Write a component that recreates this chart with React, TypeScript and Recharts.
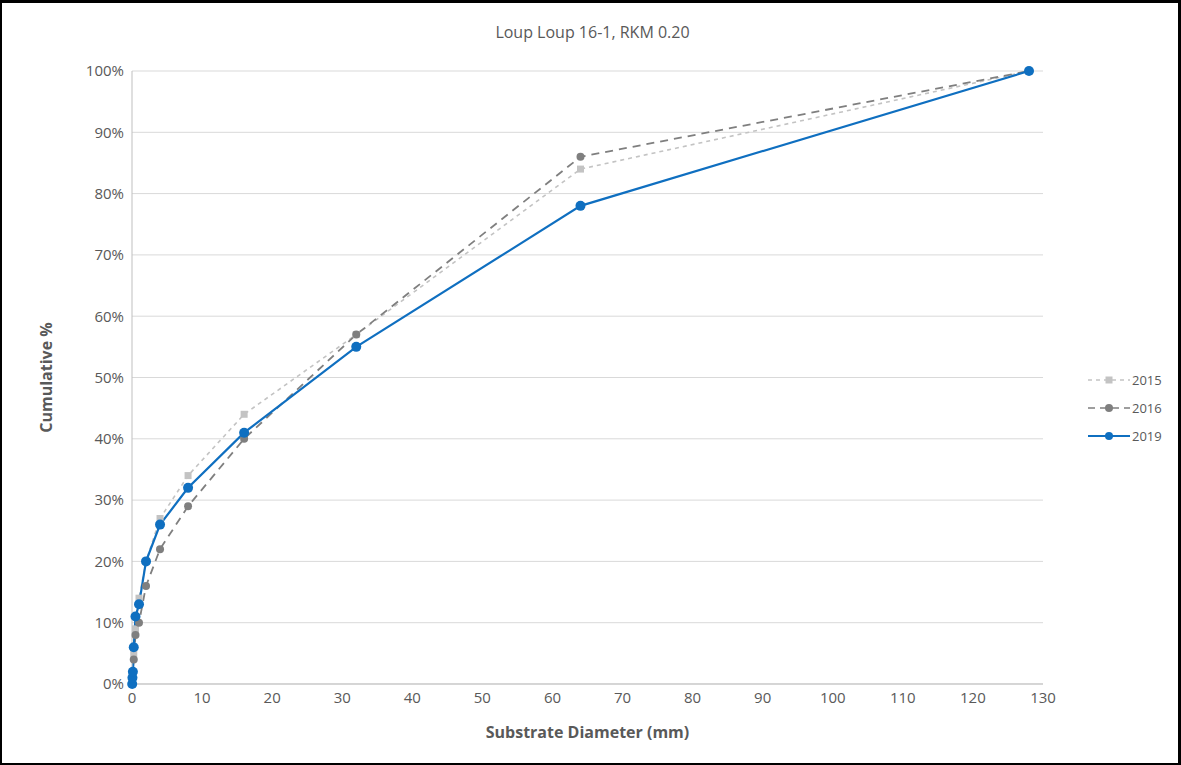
import React from "react";
import { LineChart, Line, XAxis, YAxis, CartesianGrid } from "recharts";

// particle sizes (mm)
const sizes = [0.03, 0.0625, 0.125, 0.25, 0.5, 1, 2, 4, 8, 16, 32, 64, 128];
const y2015 = [0, 1, 2, 5, 9, 14, 20, 27, 34, 44, 57, 84, 100];
const y2016 = [0, 1, 2, 4, 8, 10, 16, 22, 29, 40, 57, 86, 100];
const y2019 = [0, 1, 2, 6, 11, 13, 20, 26, 32, 41, 55, 78, 100];

const xTicks = [0, 10, 20, 30, 40, 50, 60, 70, 80, 90, 100, 110, 120, 130];
const yTicks = [0, 10, 20, 30, 40, 50, 60, 70, 80, 90, 100];

const data = sizes.map((s, i) => ({ x: s, y2015: y2015[i], y2016: y2016[i], y2019: y2019[i] }));

const C2015 = "#c3c3c3";
const C2016 = "#7f7f7f";
const C2019 = "#0f6fc0";
const FONT = "'Open Sans', 'Liberation Sans', sans-serif";

const SquareDot = (props: any) => {
  const { cx, cy } = props;
  if (cx == null || cy == null) return null;
  return <rect x={cx - 3.5} y={cy - 3.5} width={7} height={7} fill={C2015} />;
};

const legendItems = [
  { name: "2015", color: C2015, dash: "4 4", marker: "square" },
  { name: "2016", color: C2016, dash: "7 5", marker: "circle" },
  { name: "2019", color: C2019, dash: "", marker: "circle" },
];

const LegendBox = () => (
  <div style={{ fontFamily: FONT, fontSize: 13, color: "#595959" }}>
    {legendItems.map((it) => (
      <div key={it.name} style={{ display: "flex", alignItems: "center", height: 28 }}>
        <svg width={46} height={12}>
          <line x1={2} y1={6} x2={44} y2={6} stroke={it.color} strokeWidth={it.name === "2019" ? 2 : 1.6} strokeDasharray={it.dash} />
          {it.marker === "square" ? (
            <rect x={19.5} y={2.5} width={7} height={7} fill={it.color} />
          ) : (
            <circle cx={23} cy={6} r={4} fill={it.color} />
          )}
        </svg>
        <span>{it.name}</span>
      </div>
    ))}
  </div>
);

export default function App() {
  return (
    <div
      style={{
        position: "absolute",
        left: 0,
        top: 0,
        width: 1181,
        height: 765,
        background: "#fff",
        boxSizing: "border-box",
        border: "2px solid #000",
        borderRight: "3px solid #000",
        borderTop: "3px solid #000",
      }}
    >
      <div
        style={{
          position: "absolute",
          left: 0,
          top: 18,
          width: 1181,
          textAlign: "center",
          fontFamily: FONT,
          fontSize: 16,
          color: "#595959",
        }}
      >
        Loup Loup 16-1, RKM 0.20
      </div>
      <div style={{ position: "absolute", left: -2, top: -3 }}>
        <LineChart width={1181} height={765} data={data} margin={{ top: 71, right: 138, bottom: 51, left: 62 }}>
          <CartesianGrid horizontal vertical={false} stroke="#d9d9d9" />
          <XAxis
            dataKey="x"
            type="number"
            domain={[0, 130]}
            ticks={xTicks}
            interval={0}
            height={30}
            tickLine={false}
            axisLine={{ stroke: "#bfbfbf" }}
            tick={{ fill: "#595959", fontSize: 15, fontFamily: FONT }}
            label={{
              value: "Substrate Diameter (mm)",
              position: "insideBottom",
              offset: -24,
              style: { fill: "#595959", fontSize: 16, fontWeight: "bold", fontFamily: FONT },
            }}
          />
          <YAxis
            type="number"
            domain={[0, 100]}
            ticks={yTicks}
            interval={0}
            width={70}
            tickFormatter={(v: number) => `${v}%`}
            tickLine={false}
            axisLine={{ stroke: "#bfbfbf" }}
            tick={{ fill: "#595959", fontSize: 15, fontFamily: FONT }}
            label={{
              value: "Cumulative %",
              angle: -90,
              position: "insideLeft",
              offset: -16,
              style: { fill: "#595959", fontSize: 16, fontWeight: "bold", fontFamily: FONT, textAnchor: "middle" },
            }}
          />
          <Line
            dataKey="y2015"
            name="2015"
            stroke={C2015}
            strokeWidth={1.6}
            strokeDasharray="4 4"
            dot={<SquareDot />}
            isAnimationActive={false}
          />
          <Line
            dataKey="y2016"
            name="2016"
            stroke={C2016}
            strokeWidth={1.8}
            strokeDasharray="8 6"
            dot={{ r: 4, fill: C2016, stroke: C2016, strokeWidth: 0 }}
            isAnimationActive={false}
          />
          <Line
            dataKey="y2019"
            name="2019"
            stroke={C2019}
            strokeWidth={2.2}
            dot={{ r: 5, fill: C2019, stroke: C2019, strokeWidth: 0 }}
            isAnimationActive={false}
          />
        </LineChart>
      </div>
      <div style={{ position: "absolute", left: 1084, top: 363 }}>
        <LegendBox />
      </div>
    </div>
  );
}
